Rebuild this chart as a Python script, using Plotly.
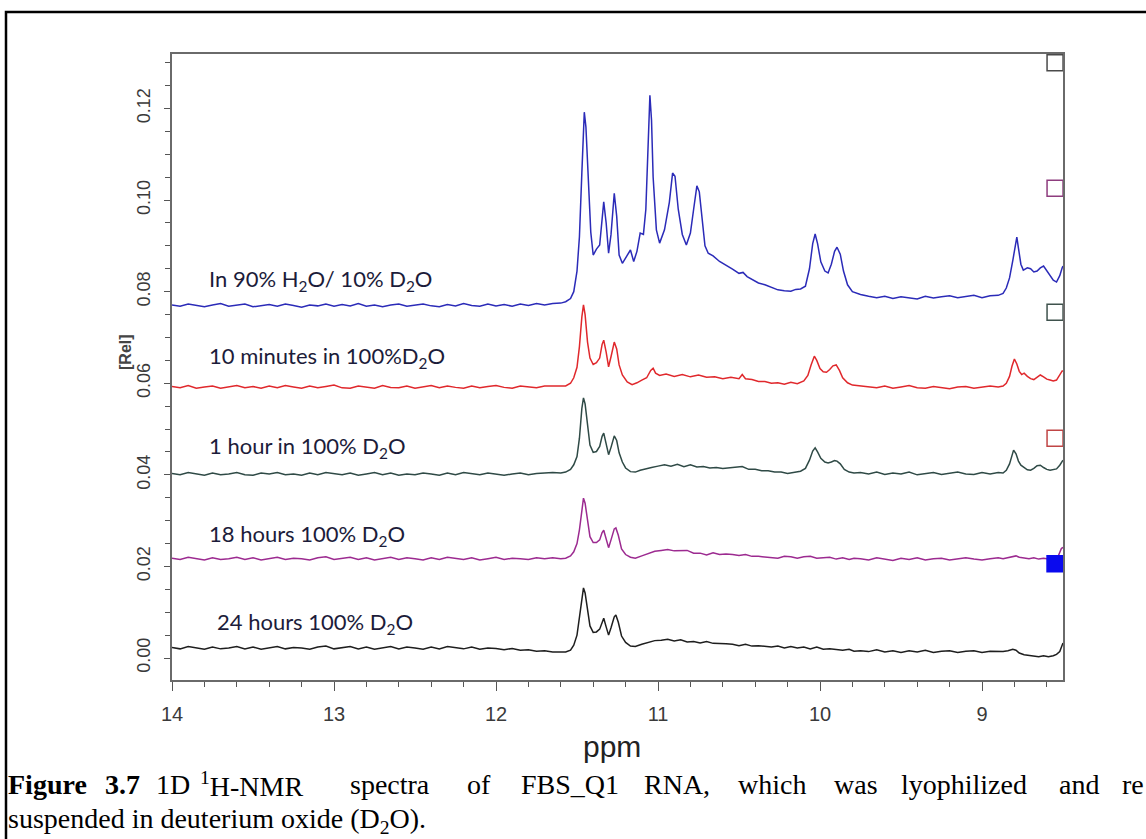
import plotly.graph_objects as go

# ---------------- data ----------------
ppm_left = [14.00, 13.95, 13.90, 13.85, 13.80, 13.75, 13.70, 13.65,
            13.60, 13.55, 13.50, 13.45, 13.40, 13.35, 13.30, 13.25,
            13.20, 13.15, 13.10, 13.05, 13.00, 12.95, 12.90, 12.85,
            12.80, 12.75, 12.70, 12.65, 12.60, 12.55, 12.50, 12.45,
            12.40, 12.35, 12.30, 12.25, 12.20, 12.15, 12.10, 12.05,
            12.00, 11.95, 11.90, 11.85, 11.80, 11.75, 11.70, 11.65]
ppm_right = [9.75, 9.70, 9.65, 9.60, 9.55, 9.50, 9.45, 9.40, 9.35,
             9.30, 9.25, 9.20, 9.15, 9.10, 9.05, 9.00, 8.95, 8.90]

# 90% H2O / 10% D2O (blue)
blue_left = [0.0771, 0.0768, 0.0773, 0.0770, 0.0767, 0.0771, 0.0774, 0.0768,
             0.0770, 0.0773, 0.0767, 0.0770, 0.0772, 0.0768, 0.0773, 0.0770,
             0.0766, 0.0771, 0.0769, 0.0773, 0.0768, 0.0772, 0.0769, 0.0774,
             0.0768, 0.0771, 0.0767, 0.0771, 0.0773, 0.0768, 0.0770, 0.0773,
             0.0769, 0.0767, 0.0772, 0.0769, 0.0774, 0.0770, 0.0768, 0.0773,
             0.0769, 0.0772, 0.0768, 0.0773, 0.0770, 0.0774, 0.0771, 0.0774]
blue_mid = [(11.60, 0.0775), (11.57, 0.0778), (11.54, 0.0785), (11.52, 0.0800), (11.50, 0.0845),
            (11.485, 0.0920), (11.47, 0.1060), (11.455, 0.1192), (11.445, 0.1160), (11.43, 0.1040),
            (11.415, 0.0930), (11.40, 0.0880), (11.38, 0.0893), (11.36, 0.0902), (11.35, 0.0935),
            (11.335, 0.0996), (11.32, 0.0950), (11.305, 0.0884), (11.29, 0.0925), (11.27, 0.1015),
            (11.255, 0.0965), (11.24, 0.0880), (11.22, 0.0862), (11.19, 0.0880), (11.17, 0.0891),
            (11.15, 0.0866), (11.13, 0.0888), (11.11, 0.0928), (11.09, 0.0925), (11.075, 0.0980),
            (11.06, 0.1120), (11.05, 0.1229), (11.04, 0.1175), (11.03, 0.1050), (11.01, 0.0935),
            (10.99, 0.0906), (10.96, 0.0935), (10.93, 0.0995), (10.91, 0.1059), (10.895, 0.1052),
            (10.875, 0.0980), (10.85, 0.0925), (10.825, 0.0902), (10.80, 0.0928), (10.78, 0.0980),
            (10.76, 0.1031), (10.745, 0.1018), (10.73, 0.0960), (10.71, 0.0900), (10.69, 0.0884),
            (10.66, 0.0878), (10.62, 0.0866), (10.58, 0.0858), (10.54, 0.0849), (10.50, 0.0840),
            (10.475, 0.0842), (10.45, 0.0833), (10.42, 0.0827), (10.38, 0.0819), (10.34, 0.0815),
            (10.30, 0.0809), (10.26, 0.0804), (10.22, 0.0802), (10.18, 0.0801), (10.15, 0.0805),
            (10.12, 0.0806), (10.09, 0.0812), (10.065, 0.0850), (10.045, 0.0905), (10.03, 0.0926),
            (10.015, 0.0905), (9.995, 0.0865), (9.97, 0.0845), (9.95, 0.0841), (9.93, 0.0860),
            (9.91, 0.0888), (9.895, 0.0897), (9.875, 0.0882), (9.855, 0.0845), (9.83, 0.0815),
            (9.80, 0.0800)]
blue_right = [0.0794, 0.0790, 0.0787, 0.0790, 0.0785, 0.0789, 0.0786, 0.0784, 0.0790,
              0.0786, 0.0789, 0.0791, 0.0787, 0.0790, 0.0792, 0.0787, 0.0791, 0.0792]
blue_end = [(8.87, 0.0796), (8.85, 0.0808), (8.83, 0.0830), (8.81, 0.0868), (8.795, 0.0905),
            (8.785, 0.0919), (8.775, 0.0895), (8.76, 0.0860), (8.745, 0.0847), (8.72, 0.0852),
            (8.70, 0.0850), (8.68, 0.0843), (8.66, 0.0845), (8.64, 0.0852), (8.62, 0.0856),
            (8.60, 0.0846), (8.58, 0.0835), (8.56, 0.0825), (8.54, 0.0821), (8.52, 0.0835),
            (8.505, 0.0852), (8.50, 0.0856)]

# 10 minutes in 100% D2O (red)
red_left = [0.0593, 0.0590, 0.0595, 0.0589, 0.0592, 0.0594, 0.0589, 0.0592,
            0.0595, 0.0590, 0.0593, 0.0589, 0.0594, 0.0590, 0.0595, 0.0592,
            0.0589, 0.0594, 0.0590, 0.0593, 0.0596, 0.0590, 0.0589, 0.0594,
            0.0592, 0.0589, 0.0595, 0.0591, 0.0590, 0.0594, 0.0589, 0.0592,
            0.0595, 0.0590, 0.0594, 0.0591, 0.0589, 0.0594, 0.0590, 0.0593,
            0.0595, 0.0591, 0.0589, 0.0594, 0.0592, 0.0590, 0.0594, 0.0594]
red_mid = [(11.60, 0.0593), (11.57, 0.0594), (11.54, 0.0600), (11.52, 0.0612), (11.50, 0.0635),
           (11.485, 0.0680), (11.47, 0.0745), (11.46, 0.0771), (11.45, 0.0750), (11.435, 0.0690),
           (11.42, 0.0655), (11.40, 0.0641), (11.38, 0.0645), (11.36, 0.0655), (11.345, 0.0685),
           (11.335, 0.0694), (11.32, 0.0668), (11.305, 0.0636), (11.29, 0.0658), (11.27, 0.0690),
           (11.255, 0.0675), (11.24, 0.0640), (11.22, 0.0618), (11.19, 0.0603), (11.16, 0.0597),
           (11.13, 0.0601), (11.10, 0.0607), (11.07, 0.0612), (11.045, 0.0628), (11.03, 0.0633),
           (11.015, 0.0622), (10.99, 0.0617), (10.95, 0.0620), (10.90, 0.0615), (10.85, 0.0619),
           (10.80, 0.0614), (10.75, 0.0618), (10.70, 0.0613), (10.65, 0.0614), (10.60, 0.0610),
           (10.55, 0.0613), (10.50, 0.0610), (10.48, 0.0619), (10.46, 0.0610), (10.42, 0.0608),
           (10.38, 0.0604), (10.34, 0.0604), (10.30, 0.0600), (10.26, 0.0601), (10.22, 0.0598),
           (10.18, 0.0602), (10.14, 0.0599), (10.10, 0.0605), (10.075, 0.0617), (10.055, 0.0640),
           (10.035, 0.0659), (10.02, 0.0650), (10.00, 0.0632), (9.98, 0.0625), (9.96, 0.0624),
           (9.94, 0.0630), (9.92, 0.0638), (9.90, 0.0640), (9.88, 0.0628), (9.86, 0.0612),
           (9.83, 0.0601), (9.80, 0.0596)]
red_right = [0.0594, 0.0591, 0.0590, 0.0594, 0.0589, 0.0592, 0.0595, 0.0590, 0.0589,
             0.0593, 0.0590, 0.0588, 0.0592, 0.0593, 0.0589, 0.0591, 0.0594, 0.0592]
red_end = [(8.87, 0.0594), (8.85, 0.0600), (8.83, 0.0615), (8.815, 0.0637), (8.80, 0.0653),
           (8.785, 0.0642), (8.77, 0.0626), (8.755, 0.0619), (8.74, 0.0622), (8.72, 0.0615),
           (8.70, 0.0610), (8.68, 0.0608), (8.66, 0.0613), (8.64, 0.0618), (8.62, 0.0614),
           (8.60, 0.0609), (8.58, 0.0607), (8.56, 0.0605), (8.54, 0.0607), (8.52, 0.0618),
           (8.505, 0.0627), (8.50, 0.0626)]

# 1 hour in 100% D2O (dark slate)
gray_left = [0.0403, 0.0400, 0.0405, 0.0402, 0.0399, 0.0404, 0.0400, 0.0402,
             0.0405, 0.0400, 0.0399, 0.0404, 0.0402, 0.0405, 0.0400, 0.0402,
             0.0399, 0.0404, 0.0400, 0.0405, 0.0402, 0.0400, 0.0404, 0.0399,
             0.0402, 0.0405, 0.0400, 0.0404, 0.0399, 0.0402, 0.0400, 0.0404,
             0.0402, 0.0399, 0.0404, 0.0400, 0.0405, 0.0402, 0.0400, 0.0404,
             0.0402, 0.0399, 0.0402, 0.0404, 0.0400, 0.0403, 0.0404, 0.0405]
gray_mid = [(11.60, 0.0404), (11.57, 0.0406), (11.54, 0.0412), (11.52, 0.0422), (11.50, 0.0440),
            (11.485, 0.0480), (11.47, 0.0545), (11.46, 0.0568), (11.45, 0.0555), (11.435, 0.0505),
            (11.42, 0.0465), (11.40, 0.0449), (11.38, 0.0451), (11.36, 0.0462), (11.345, 0.0484),
            (11.335, 0.0491), (11.32, 0.0468), (11.305, 0.0444), (11.29, 0.0460), (11.27, 0.0485),
            (11.255, 0.0475), (11.24, 0.0448), (11.22, 0.0428), (11.20, 0.0415), (11.17, 0.0407),
            (11.14, 0.0406), (11.11, 0.0410), (11.08, 0.0413), (11.04, 0.0416), (11.00, 0.0419),
            (10.96, 0.0422), (10.92, 0.0419), (10.88, 0.0423), (10.84, 0.0418), (10.80, 0.0422),
            (10.76, 0.0417), (10.72, 0.0418), (10.68, 0.0415), (10.64, 0.0416), (10.60, 0.0414),
            (10.56, 0.0415), (10.52, 0.0417), (10.48, 0.0418), (10.44, 0.0412), (10.40, 0.0412),
            (10.36, 0.0409), (10.32, 0.0409), (10.28, 0.0406), (10.24, 0.0406), (10.20, 0.0403),
            (10.16, 0.0406), (10.12, 0.0408), (10.09, 0.0414), (10.065, 0.0432), (10.045, 0.0452),
            (10.03, 0.0459), (10.015, 0.0450), (9.995, 0.0436), (9.97, 0.0428), (9.95, 0.0426),
            (9.93, 0.0428), (9.91, 0.0431), (9.895, 0.0430), (9.875, 0.0424), (9.85, 0.0412),
            (9.82, 0.0406), (9.79, 0.0404)]
gray_right = [0.0405, 0.0402, 0.0406, 0.0401, 0.0404, 0.0402, 0.0406, 0.0400, 0.0403,
              0.0405, 0.0401, 0.0403, 0.0406, 0.0402, 0.0401, 0.0405, 0.0402, 0.0405]
gray_end = [(8.87, 0.0404), (8.85, 0.0410), (8.83, 0.0424), (8.815, 0.0442), (8.805, 0.0454),
            (8.79, 0.0446), (8.775, 0.0430), (8.76, 0.0421), (8.74, 0.0415), (8.72, 0.0411),
            (8.70, 0.0410), (8.68, 0.0414), (8.66, 0.0420), (8.64, 0.0421), (8.62, 0.0416),
            (8.60, 0.0412), (8.58, 0.0410), (8.56, 0.0411), (8.54, 0.0413), (8.52, 0.0421),
            (8.505, 0.0430), (8.50, 0.0432)]

# 18 hours 100% D2O (purple)
purple_left = [0.0218, 0.0215, 0.0220, 0.0217, 0.0214, 0.0219, 0.0215, 0.0217,
               0.0220, 0.0215, 0.0219, 0.0214, 0.0217, 0.0220, 0.0215, 0.0218,
               0.0217, 0.0214, 0.0219, 0.0221, 0.0215, 0.0217, 0.0220, 0.0215,
               0.0219, 0.0214, 0.0217, 0.0220, 0.0215, 0.0219, 0.0217, 0.0214,
               0.0219, 0.0215, 0.0220, 0.0217, 0.0215, 0.0219, 0.0214, 0.0217,
               0.0220, 0.0215, 0.0218, 0.0217, 0.0215, 0.0219, 0.0217, 0.0219]
purple_mid = [(11.60, 0.0217), (11.57, 0.0218), (11.54, 0.0223), (11.52, 0.0232), (11.50, 0.0250),
              (11.485, 0.0280), (11.47, 0.0330), (11.46, 0.0349), (11.45, 0.0338), (11.435, 0.0300),
              (11.42, 0.0265), (11.40, 0.0252), (11.38, 0.0252), (11.36, 0.0258), (11.345, 0.0274),
              (11.335, 0.0279), (11.32, 0.0262), (11.305, 0.0241), (11.29, 0.0258), (11.27, 0.0282),
              (11.26, 0.0284), (11.245, 0.0268), (11.225, 0.0238), (11.20, 0.0226), (11.17, 0.0220),
              (11.14, 0.0218), (11.10, 0.0223), (11.06, 0.0228), (11.02, 0.0233), (10.98, 0.0235),
              (10.94, 0.0237), (10.90, 0.0234), (10.86, 0.0234), (10.82, 0.0235), (10.78, 0.0229),
              (10.74, 0.0229), (10.70, 0.0225), (10.66, 0.0230), (10.62, 0.0226), (10.58, 0.0227),
              (10.54, 0.0226), (10.50, 0.0224), (10.46, 0.0226), (10.42, 0.0222), (10.38, 0.0222),
              (10.34, 0.0221), (10.30, 0.0220), (10.26, 0.0218), (10.22, 0.0222), (10.18, 0.0221),
              (10.14, 0.0218), (10.10, 0.0221), (10.06, 0.0222), (10.02, 0.0218), (9.98, 0.0219),
              (9.94, 0.0220), (9.90, 0.0216), (9.86, 0.0219), (9.82, 0.0215), (9.79, 0.0218)]
purple_right = [0.0217, 0.0214, 0.0219, 0.0216, 0.0213, 0.0218, 0.0215, 0.0219, 0.0214,
                0.0217, 0.0218, 0.0214, 0.0216, 0.0219, 0.0216, 0.0214, 0.0217, 0.0219]
purple_end = [(8.87, 0.0217), (8.84, 0.0219), (8.81, 0.0221), (8.79, 0.0223), (8.77, 0.0220),
              (8.74, 0.0218), (8.71, 0.0217), (8.68, 0.0219), (8.65, 0.0216), (8.62, 0.0218),
              (8.59, 0.0216), (8.56, 0.0217), (8.54, 0.0218), (8.53, 0.0222), (8.52, 0.0232),
              (8.51, 0.0239), (8.50, 0.0242)]

# 24 hours 100% D2O (black)
black_left = [0.0023, 0.0020, 0.0025, 0.0022, 0.0019, 0.0024, 0.0020, 0.0022,
              0.0025, 0.0020, 0.0024, 0.0019, 0.0022, 0.0025, 0.0020, 0.0023,
              0.0022, 0.0019, 0.0024, 0.0026, 0.0020, 0.0022, 0.0025, 0.0020,
              0.0024, 0.0019, 0.0022, 0.0025, 0.0020, 0.0024, 0.0022, 0.0019,
              0.0024, 0.0020, 0.0025, 0.0022, 0.0020, 0.0024, 0.0019, 0.0022,
              0.0021, 0.0018, 0.0021, 0.0017, 0.0018, 0.0015, 0.0016, 0.0013]
black_mid = [(11.60, 0.0014), (11.57, 0.0013), (11.54, 0.0017), (11.52, 0.0028), (11.50, 0.0050),
             (11.485, 0.0090), (11.47, 0.0135), (11.46, 0.0153), (11.45, 0.0142), (11.435, 0.0105),
             (11.42, 0.0070), (11.40, 0.0056), (11.38, 0.0057), (11.36, 0.0063), (11.345, 0.0080),
             (11.335, 0.0087), (11.32, 0.0068), (11.305, 0.0050), (11.29, 0.0066), (11.27, 0.0090),
             (11.26, 0.0094), (11.245, 0.0078), (11.225, 0.0048), (11.20, 0.0034), (11.17, 0.0026),
             (11.14, 0.0025), (11.10, 0.0030), (11.06, 0.0034), (11.02, 0.0038), (10.98, 0.0039),
             (10.94, 0.0041), (10.90, 0.0037), (10.86, 0.0040), (10.82, 0.0035), (10.78, 0.0036),
             (10.74, 0.0033), (10.70, 0.0036), (10.66, 0.0032), (10.62, 0.0032), (10.58, 0.0031),
             (10.54, 0.0030), (10.50, 0.0027), (10.46, 0.0030), (10.42, 0.0026), (10.38, 0.0027),
             (10.34, 0.0026), (10.30, 0.0024), (10.26, 0.0026), (10.22, 0.0022), (10.18, 0.0025),
             (10.14, 0.0022), (10.10, 0.0024), (10.06, 0.0020), (10.02, 0.0024), (9.98, 0.0019),
             (9.94, 0.0020), (9.90, 0.0019), (9.86, 0.0017), (9.82, 0.0019), (9.79, 0.0015)]
black_right = [0.0016, 0.0014, 0.0018, 0.0013, 0.0016, 0.0012, 0.0016, 0.0013, 0.0017,
               0.0012, 0.0015, 0.0016, 0.0012, 0.0015, 0.0016, 0.0012, 0.0015, 0.0015]
black_end = [(8.87, 0.0014), (8.84, 0.0016), (8.81, 0.0019), (8.79, 0.0017), (8.77, 0.0011),
             (8.74, 0.0007), (8.71, 0.0006), (8.68, 0.0004), (8.65, 0.0003), (8.62, 0.0005),
             (8.59, 0.0003), (8.56, 0.0005), (8.54, 0.0008), (8.52, 0.0014), (8.51, 0.0024),
             (8.50, 0.0033)]

# small square symbols drawn at the right edge of the plot
box_ppm = [8.549, 8.549, 8.549, 8.549, 8.549]
box_rel = [0.1300, 0.1026, 0.0755, 0.0480, 0.0206]
box_colors = ["#4a4a4a", "#8e3c7e", "#3f524d", "#c04545", "#0a0aee"]
box_symbols = ["square-open", "square-open", "square-open", "square-open", "square"]

series_labels = ["In 90% H<sub>2</sub>O/ 10% D<sub>2</sub>O",
                 "10 minutes in 100%D<sub>2</sub>O",
                 "1 hour in 100% D<sub>2</sub>O",
                 "18 hours 100% D<sub>2</sub>O",
                 "24 hours 100% D<sub>2</sub>O"]
series_colors = ["#2b2bb8", "#e0282c", "#2f4a46", "#9c2a90", "#1e1e1e"]

x_ticks = [14, 13, 12, 11, 10, 9]

caption_words = ["<b>Figure</b>", "<b>3.7</b>", "1D", "<sup>1</sup>H-NMR", "spectra", "of",
                 "FBS_Q1", "RNA,", "which", "was", "lyophilized", "and", "re"]
caption_line2 = "suspended in deuterium oxide (D<sub>2</sub>O)."

# ---------------- layout helpers (pixel -> paper) ----------------
W, H = 1146, 839
L, R, T, B = 172, 83, 54, 159
PW, PH = W - L - R, H - T - B


def PX(x):
    return (x - L) / PW


def PY(y):
    return (H - B - y) / PH


def build(left, mid, right, end):
    xs = ppm_left + [p for p, _ in mid] + ppm_right + [p for p, _ in end]
    ys = left + [v for _, v in mid] + right + [v for _, v in end]
    return xs, ys


series = [
    build(blue_left, blue_mid, blue_right, blue_end),
    build(red_left, red_mid, red_right, red_end),
    build(gray_left, gray_mid, gray_right, gray_end),
    build(purple_left, purple_mid, purple_right, purple_end),
    build(black_left, black_mid, black_right, black_end),
]

fig = go.Figure()
for (xs, ys), col in zip(series, series_colors):
    fig.add_trace(go.Scatter(x=xs, y=ys, mode="lines",
                             line=dict(color=col, width=1.5), hoverinfo="skip"))

fig.add_trace(go.Scatter(x=box_ppm, y=box_rel, mode="markers",
                         marker=dict(symbol=box_symbols, size=16, color=box_colors,
                                     line=dict(color=box_colors, width=1.5)),
                         hoverinfo="skip"))

axis_font = dict(family="Liberation Sans, Arial, sans-serif", color="#3a3a3a")

fig.update_layout(
    width=W, height=H,
    margin=dict(l=L, r=R, t=T, b=B, pad=0),
    paper_bgcolor="white", plot_bgcolor="white",
    showlegend=False,
    xaxis=dict(range=[14, 8.5], tickvals=x_ticks, ticks="outside", ticklen=9, tickwidth=1.3,
               tickcolor="#555", showline=True, mirror=True, linecolor="#6a6a6a", linewidth=1.5,
               showgrid=False, zeroline=False, tickfont=dict(size=20, **axis_font),
               ticklabelstandoff=6,
               minor=dict(dtick=0.2, tick0=0, ticks="outside", ticklen=5, tickwidth=1.2,
                          tickcolor="#555", showgrid=False)),
    yaxis=dict(range=[-0.0048, 0.1319], tick0=0, dtick=0.02, tickformat=".2f", tickangle=-90,
               ticks="outside", ticklen=6, tickwidth=1.2, tickcolor="#555",
               showline=True, mirror=True, linecolor="#6a6a6a", linewidth=1.5,
               showgrid=False, zeroline=False, tickfont=dict(size=18, **axis_font),
               ticklabelstandoff=7,
               minor=dict(dtick=0.005, tick0=0, ticks="outside", ticklen=5, tickwidth=1.2,
                          tickcolor="#555", showgrid=False)),
    shapes=[dict(type="rect", xref="paper", yref="paper",
                 x0=PX(6), x1=PX(1160), y0=PY(850), y1=PY(12),
                 line=dict(color="black", width=2.5), fillcolor="rgba(0,0,0,0)", layer="above")],
)

ann = []
# axis titles
ann.append(dict(text="<b>[Rel]</b>", x=PX(125), y=PY(352), xref="paper", yref="paper",
                showarrow=False, textangle=-90, xanchor="center", yanchor="middle",
                font=dict(size=16, family="Liberation Sans, Arial, sans-serif", color="#444")))
ann.append(dict(text="ppm", x=PX(612), y=PY(746), xref="paper", yref="paper",
                showarrow=False, xanchor="center", yanchor="middle",
                font=dict(size=30, family="Liberation Sans, Arial, sans-serif", color="#222")))

# curve labels
label_pos = [(207, 280), (207, 357), (207, 447), (207, 535), (215, 623)]
for txt, (lx, ly) in zip(series_labels, label_pos):
    ann.append(dict(text=txt, x=PX(lx), y=PY(ly), xref="paper", yref="paper",
                    showarrow=False, xanchor="left", yanchor="middle",
                    font=dict(size=22, family="Lato, Carlito, sans-serif", color="#1c1c3a")))

# caption (justified first line -> words placed individually)
cap_font = dict(size=28, family="Liberation Serif, Times New Roman, serif", color="black")
word_x = [7, 104, 155, 199, 349, 466, 520, 643, 737, 833, 900, 1058, 1121]
for w, wx in zip(caption_words, word_x):
    ann.append(dict(text=w, x=PX(wx), y=PY(784), xref="paper", yref="paper",
                    showarrow=False, xanchor="left", yanchor="middle", borderpad=0,
                    font=cap_font))
ann.append(dict(text=caption_line2, x=PX(7), y=PY(820), xref="paper", yref="paper",
                showarrow=False, xanchor="left", yanchor="middle", borderpad=0,
                font=cap_font))

fig.update_layout(annotations=ann)
fig.write_html("out.html")
